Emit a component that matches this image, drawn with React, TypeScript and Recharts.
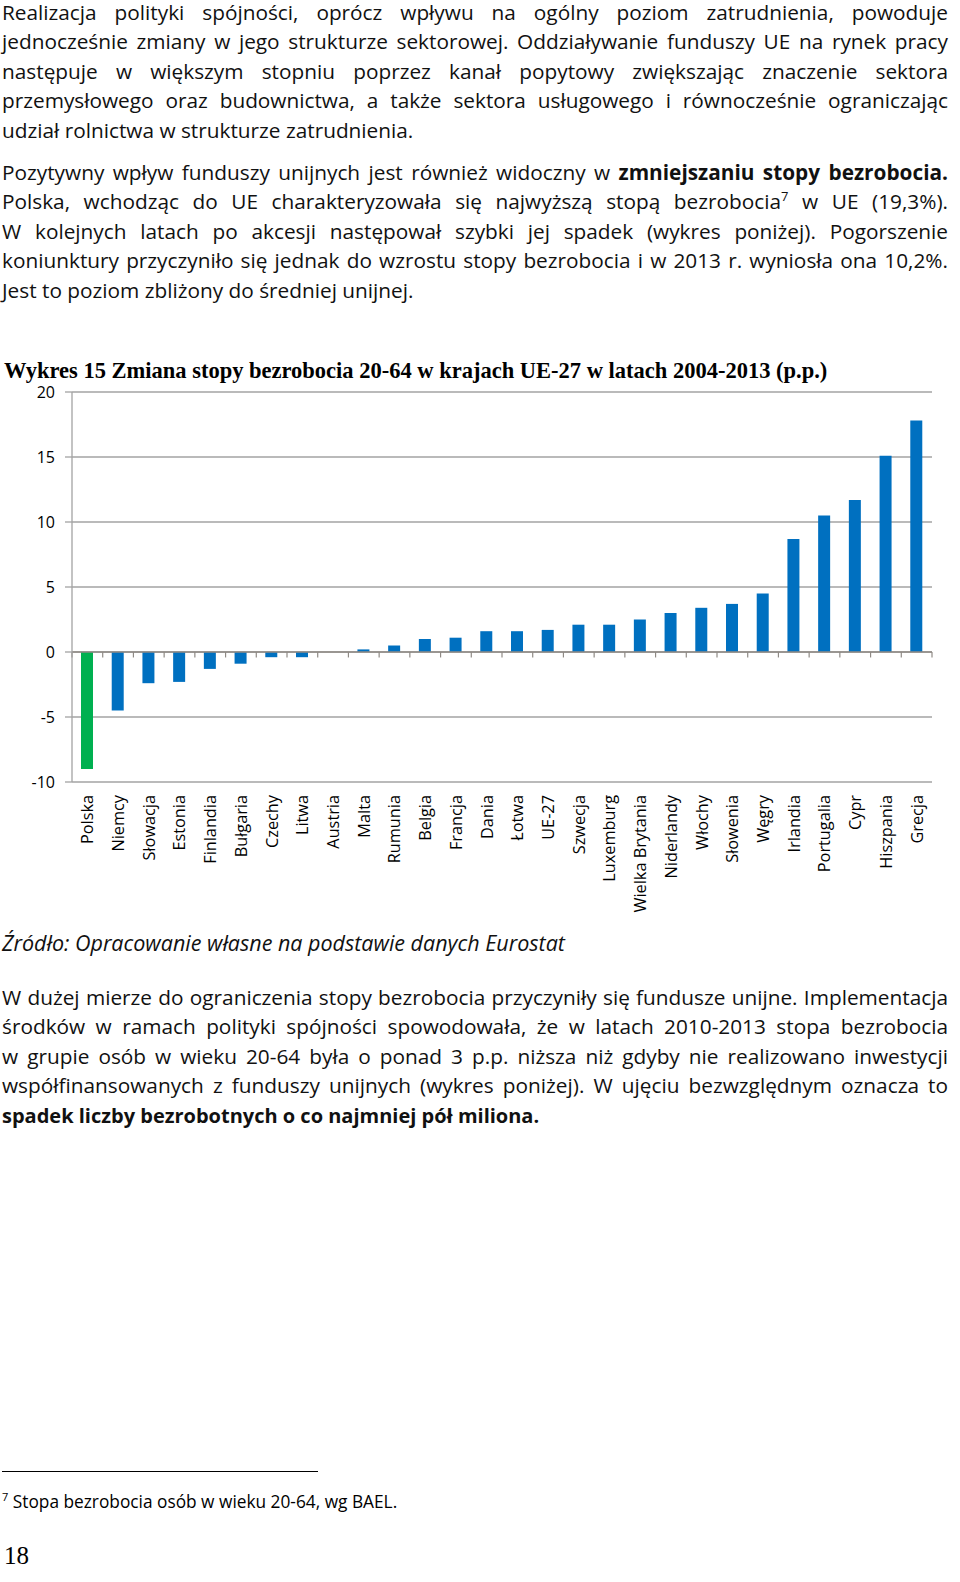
import React from 'react';
import {
  BarChart,
  Bar,
  Cell,
  XAxis,
  YAxis,
  CartesianGrid,
  ReferenceLine,
} from 'recharts';

// Change of unemployment rate 20-64, 2004-2013 (p.p.)
const countries = [
  'Polska', 'Niemcy', 'Słowacja', 'Estonia', 'Finlandia', 'Bułgaria', 'Czechy',
  'Litwa', 'Austria', 'Malta', 'Rumunia', 'Belgia', 'Francja', 'Dania', 'Łotwa',
  'UE-27', 'Szwecja', 'Luxemburg', 'Wielka Brytania', 'Niderlandy', 'Włochy',
  'Słowenia', 'Węgry', 'Irlandia', 'Portugalia', 'Cypr', 'Hiszpania', 'Grecja',
];
const changes = [
  -9.0, -4.5, -2.4, -2.3, -1.3, -0.9, -0.4, -0.4, 0.0, 0.2, 0.5, 1.0, 1.1, 1.6,
  1.6, 1.7, 2.1, 2.1, 2.5, 3.0, 3.4, 3.7, 4.5, 8.7, 10.5, 11.7, 15.1, 17.8,
];
const yTicks = [-10, -5, 0, 5, 10, 15, 20];
const highlighted = 'Polska';

const BLUE = '#0070C0';
const GREEN = '#00B050';
const GRID = '#a3a3a3';
const AXIS_FONT = '"Open Sans", "Noto Sans", sans-serif';
const BODY_FONT = '"Open Sans", "Noto Sans", sans-serif';
const SERIF = '"Liberation Serif", "DejaVu Serif", serif';

const data = countries.map((name, i) => ({ pos: i, name, value: changes[i] }));
const positions = data.map((d) => d.pos);
// category boundaries, where the zero axis carries its tick marks
const boundaries = [-0.5, ...positions.map((p) => p + 0.5)];

function CountryTick(props: any) {
  const { x, y, payload } = props;
  return (
    <text
      transform={`translate(${x},${y}) rotate(-90)`}
      textAnchor="end"
      dy="0.36em"
      fontSize={16.3}
      fontFamily={AXIS_FONT}
      fill="#000"
    >
      {countries[payload.value]}
    </text>
  );
}

function Line({ children, last = false }: { children: React.ReactNode; last?: boolean }) {
  return (
    <div
      style={{
        width: 946,
        whiteSpace: 'nowrap',
        textAlign: last ? 'left' : 'justify',
        textAlignLast: last ? 'left' : 'justify',
      }}
    >
      {children}
    </div>
  );
}

const bodyStyle: React.CSSProperties = {
  position: 'absolute',
  left: 2,
  fontFamily: BODY_FONT,
  fontSize: 20.8,
  lineHeight: '29.4px',
  color: '#111',
};

export default function App() {
  return (
    <div style={{ position: 'absolute', left: 0, top: 0, width: 960, height: 1582, background: '#fff' }}>
      <div style={{ ...bodyStyle, top: -2 }}>
        <Line>Realizacja polityki spójności, oprócz wpływu na ogólny poziom zatrudnienia, powoduje</Line>
        <Line>jednocześnie zmiany w jego strukturze sektorowej. Oddziaływanie funduszy UE na rynek pracy</Line>
        <Line>następuje w większym stopniu poprzez kanał popytowy zwiększając znaczenie sektora</Line>
        <Line>przemysłowego oraz budownictwa, a także sektora usługowego i równocześnie ograniczając</Line>
        <Line last>udział rolnictwa w strukturze zatrudnienia.</Line>
      </div>

      <div style={{ ...bodyStyle, top: 158 }}>
        <Line>
          Pozytywny wpływ funduszy unijnych jest również widoczny w <b>zmniejszaniu stopy bezrobocia.</b>
        </Line>
        <Line>
          Polska, wchodząc do UE charakteryzowała się najwyższą stopą bezrobocia
          <sup style={{ fontSize: 13, lineHeight: 0 }}>7</sup> w UE (19,3%).
        </Line>
        <Line>W kolejnych latach po akcesji następował szybki jej spadek (wykres poniżej). Pogorszenie</Line>
        <Line>koniunktury przyczyniło się jednak do wzrostu stopy bezrobocia i w 2013 r. wyniosła ona 10,2%.</Line>
        <Line last>Jest to poziom zbliżony do średniej unijnej.</Line>
      </div>

      <div
        style={{
          position: 'absolute',
          left: 4,
          top: 363,
          fontFamily: SERIF,
          fontWeight: 'bold',
          fontSize: 22.5,
          lineHeight: '16px',
          whiteSpace: 'nowrap',
        }}
      >
        Wykres 15 Zmiana stopy bezrobocia 20-64 w krajach UE-27 w latach 2004-2013 (p.p.)
      </div>

      <div style={{ position: 'absolute', left: 0, top: 370 }}>
        <BarChart
          width={960}
          height={560}
          data={data}
          margin={{ top: 22, right: 28, bottom: 0, left: 0 }}
        >
          <CartesianGrid vertical={false} stroke={GRID} strokeWidth={1.3} />
          <XAxis
            dataKey="pos"
            type="number"
            domain={[-0.5, 27.5]}
            ticks={positions}
            interval={0}
            axisLine={false}
            tickLine={false}
            tickSize={6}
            tickMargin={7}
            height={148}
            tick={<CountryTick />}
          />
          <YAxis
            type="number"
            domain={[-10, 20]}
            ticks={yTicks}
            width={72}
            axisLine={{ stroke: GRID, strokeWidth: 1.3 }}
            tickLine={{ stroke: GRID, strokeWidth: 1.3 }}
            tickSize={7}
            tickMargin={10}
            tick={{ fontSize: 16, fontFamily: AXIS_FONT, fill: '#000' }}
          />
          <ReferenceLine y={0} stroke="#8f8a85" strokeWidth={1.3} />
          {boundaries.map((b) => (
            <ReferenceLine
              key={b}
              segment={[{ x: b, y: 0 }, { x: b, y: -0.42 }]}
              stroke="#8f8a85"
              strokeWidth={1.2}
            />
          ))}
          <Bar dataKey="value" barSize={12} isAnimationActive={false}>
            {data.map((d) => (
              <Cell key={d.name} fill={d.name === highlighted ? GREEN : BLUE} />
            ))}
          </Bar>
        </BarChart>
      </div>

      <div
        style={{
          position: 'absolute',
          left: 2,
          top: 928,
          fontFamily: BODY_FONT,
          fontStyle: 'italic',
          fontSize: 21.5,
          lineHeight: '29.4px',
          whiteSpace: 'nowrap',
          color: '#111',
        }}
      >
        Źródło: Opracowanie własne na podstawie danych Eurostat
      </div>

      <div style={{ ...bodyStyle, top: 983 }}>
        <Line>W dużej mierze do ograniczenia stopy bezrobocia przyczyniły się fundusze unijne. Implementacja</Line>
        <Line>środków w ramach polityki spójności spowodowała, że w latach 2010-2013 stopa bezrobocia</Line>
        <Line>w grupie osób w wieku 20-64 była o ponad 3 p.p. niższa niż gdyby nie realizowano inwestycji</Line>
        <Line>współfinansowanych z funduszy unijnych (wykres poniżej). W ujęciu bezwzględnym oznacza to</Line>
        <Line last>
          <b style={{ fontSize: 20 }}>spadek liczby bezrobotnych o co najmniej pół miliona.</b>
        </Line>
      </div>

      <div style={{ position: 'absolute', left: 2, top: 1471, width: 316, height: 1.3, background: '#000' }} />

      <div
        style={{
          position: 'absolute',
          left: 2,
          top: 1490,
          fontFamily: BODY_FONT,
          fontSize: 17.3,
          lineHeight: '24px',
          whiteSpace: 'nowrap',
        }}
      >
        <sup style={{ fontSize: 11, lineHeight: 0 }}>7</sup> Stopa bezrobocia osób w wieku 20-64, wg BAEL.
      </div>

      <div
        style={{
          position: 'absolute',
          left: 4,
          top: 1540,
          fontFamily: SERIF,
          fontSize: 25,
          lineHeight: '32px',
        }}
      >
        18
      </div>
    </div>
  );
}
